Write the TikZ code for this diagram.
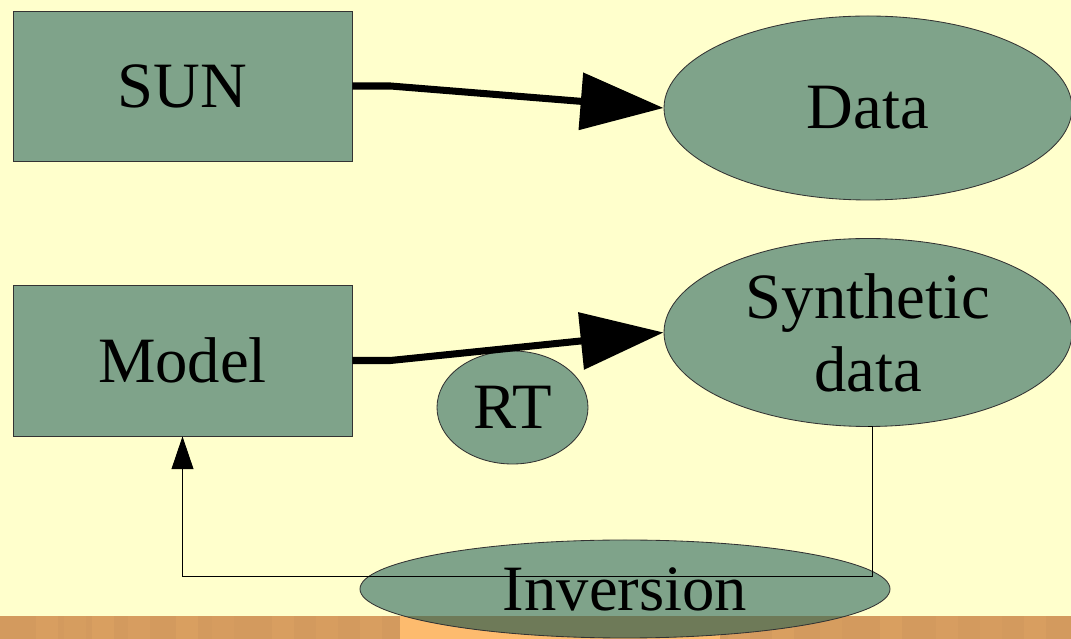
\documentclass[tikz,border=0pt]{standalone}
\usepackage{fontspec}
\newfontfamily\timesfont{Liberation Serif}
\usetikzlibrary{shapes.geometric,arrows.meta,positioning}
\definecolor{paper}{HTML}{FFFFCC}
\definecolor{sage}{HTML}{7FA38A}
\definecolor{wood}{HTML}{D39A5E}
\definecolor{woodlight}{HTML}{FDBB6E}
\definecolor{olivedark}{HTML}{6E7A58}
\tikzset{
  box/.style={draw=black!80, fill=sage, line width=0.6pt, minimum width=8.475cm, minimum height=3.75cm, font=\timesfont\fontsize{46}{52}\selectfont},
  oval/.style={ellipse, draw=black!80, fill=sage, line width=0.6pt, inner sep=0pt, font=\timesfont\fontsize{46}{52}\selectfont},
  bigarrow/.style={line width=5pt, -{Triangle[length=2.075cm, width=1.4cm]}},
  thinarrow/.style={line width=0.6pt, -{Triangle[length=0.82cm, width=0.55cm]}}
}
\begin{document}
\begin{tikzpicture}[node distance=2cm]
			\useasboundingbox (0,0) rectangle (26.775,-15.975);
			\fill[paper] (0,0) rectangle (26.775,-15.975);
			% wooden strip along the bottom
			\fill[wood] (0,-15.4) rectangle (26.775,-15.975);
			\foreach \x/\p in {0.9/88, 1.6/92, 2.3/85, 3.2/90, 4.4/86, 5.3/93, 6.8/87, 7.9/91, 9.0/88, 18.2/89, 19.3/86, 20.5/92, 22.0/85, 23.4/90, 24.5/93, 25.6/87}
				\fill[wood!\p!woodlight] (\x,-15.4) rectangle ++(0.55,-0.575);
			\fill[woodlight] (10,-15.4) rectangle (18,-15.975);
			\node(SUN)			[box] at (4.5625,-2.15)				{SUN};
			\node(Model)		[box, below of=SUN, node distance=6.8625cm, minimum height=3.775cm]	{Model};
			\node(Data)			[oval, minimum width=10.2cm, minimum height=4.6cm] at (21.7,-2.7)	{Data};
			\node(Synth)		[oval, below of=Data, node distance=5.6125cm, minimum width=10.2cm, minimum height=4.7cm, align=center]	{Synthetic\\data};
			\node(RT)			[oval, minimum width=3.775cm, minimum height=2.825cm] at (12.8125,-10.1875)	{RT};
			\node(Inversion)	[oval, minimum width=13.25cm, minimum height=2.45cm,
				path picture={\fill[olivedark] (path picture bounding box.south west) rectangle ([yshift=0.55cm]path picture bounding box.south east);}] at (15.625,-14.725)	{Inversion};
			\draw[bigarrow](SUN.east)      -- ++(0.95,0) -- (Data.west);
			\draw[bigarrow](Model.east)      -- ++(0.95,0) -- (Synth.west);
			\draw[thinarrow](Synth.south)      -- ++(0.1,0) -- ++(0,-3.75) -| (Model.south);
		\end{tikzpicture}
\end{document}
